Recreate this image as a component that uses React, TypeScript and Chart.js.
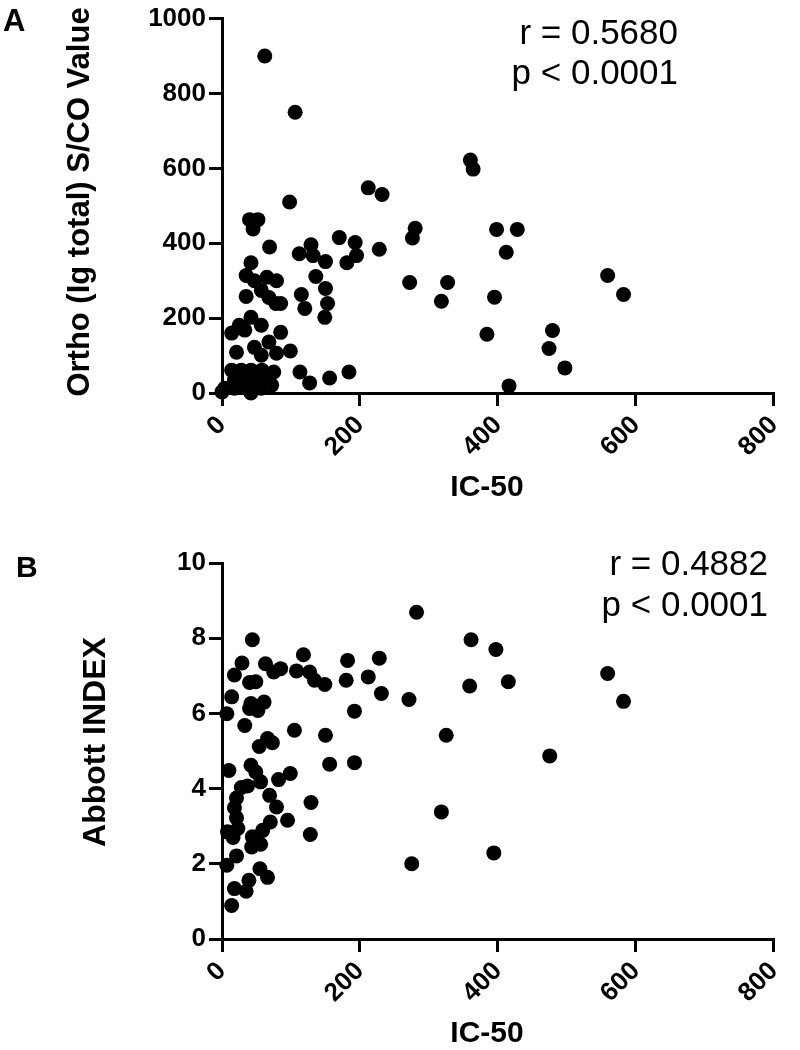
import React, { useEffect, useRef } from "react";
import { Chart, registerables } from "chart.js";

Chart.register(...registerables);

// ---------- data ----------
const xTickValues = [0, 200, 400, 600, 800];
const yTicksA = [0, 200, 400, 600, 800, 1000];
const yTicksB = [0, 2, 4, 6, 8, 10];

// Panel A: IC-50 vs Ortho (Ig total) S/CO value
const icA = [
  62, 106, 360, 364, 212, 232, 98, 40, 52, 45, 280, 276, 398, 428, 412, 559, 582, 395, 384, 479, 474, 497, 416,
  69, 112, 129, 132, 150, 170, 193, 195, 181, 228, 272, 327, 318,
  42, 35, 47, 65, 79, 57, 68, 78, 85, 35, 136, 115, 120, 150, 153, 149,
  42, 25, 14, 33, 57, 85, 21, 47, 68, 57, 79, 99,
  14, 28, 42, 58, 75, 18, 33, 50, 65, 4, 18, 37, 57, 72, 0, 42,
  113, 127, 156, 184,
];
const orthoA = [
  900, 750, 622, 598, 548, 530, 510, 463, 463, 438, 440, 414, 437, 437, 376, 314, 263, 256, 157, 167, 119, 67, 19,
  390, 372, 396, 367, 351, 415, 402, 367, 348, 384, 295, 295, 245,
  348, 314, 300, 309, 300, 274, 255, 239, 239, 258, 311, 263, 226, 279, 239, 202,
  202, 181, 160, 168, 181, 162, 109, 122, 136, 101, 106, 112,
  61, 61, 61, 61, 56, 35, 35, 35, 35, 13, 13, 13, 13, 21, 3, 0,
  56, 27, 40, 56,
];

// Panel B: IC-50 vs Abbott INDEX
const icB = [
  282, 44, 361, 397, 29, 18, 118, 63, 75, 85, 182, 228, 108, 127, 134, 149, 180, 212, 40, 49, 231, 271, 359, 415, 559, 582, 475, 394,
  14, 7, 42, 61, 52, 40, 192, 33, 105, 150, 325, 54, 66, 73,
  10, 42, 49, 56, 82, 99, 156, 192,
  28, 37, 21, 18, 21, 23, 69, 79, 95, 70, 59, 44, 56, 43, 129, 128, 318, 275,
  8, 16, 7, 21, 14, 18, 35, 39, 55, 66,
];
const abbottB = [
  8.69, 7.96, 7.96, 7.7, 7.34, 7.02, 7.56, 7.32, 7.1, 7.19, 7.41, 7.47, 7.13, 7.1, 6.88, 6.77, 6.88, 6.97, 6.82, 6.84, 6.53, 6.37, 6.73, 6.84, 7.06, 6.32, 4.87, 2.29,
  6.44, 5.99, 6.26, 6.3, 6.08, 6.13, 6.06, 5.68, 5.55, 5.42, 5.42, 5.12, 5.33, 5.22,
  4.48, 4.62, 4.44, 4.18, 4.24, 4.4, 4.65, 4.69,
  4.03, 4.07, 3.75, 3.49, 3.22, 2.94, 3.82, 3.51, 3.16, 3.11, 2.89, 2.72, 2.52, 2.45, 3.63, 2.78, 3.38, 2.0,
  2.85, 2.7, 1.96, 2.21, 0.89, 1.34, 1.27, 1.56, 1.87, 1.64,
];

const xTitle = "IC-50";
const yTitleA = "Ortho (Ig total) S/CO Value";
const yTitleB = "Abbott INDEX";
const statsA = ["r = 0.5680", "p < 0.0001"];
const statsB = ["r = 0.4882", "p < 0.0001"];

// ---------- helpers ----------
const FAMILY = '"Liberation Sans", Arial, Helvetica, sans-serif';

type Txt = {
  text: string;
  x: number;
  y: number;
  font: string;
  align: CanvasTextAlign;
  rotate?: number;
};

const textPlugin = {
  id: "panelText",
  afterDraw(chart: any, _args: any, opts: any) {
    const ctx = chart.ctx as CanvasRenderingContext2D;
    const items: Txt[] = (opts && opts.items) || [];
    items.forEach((t) => {
      ctx.save();
      ctx.translate(t.x, t.y);
      if (t.rotate) ctx.rotate(t.rotate);
      ctx.font = t.font;
      ctx.fillStyle = "#000";
      ctx.textAlign = t.align;
      ctx.textBaseline = "middle";
      ctx.fillText(t.text, 0, 0);
      ctx.restore();
    });
  },
};

const CANVAS_H = 525;

function makeConfig(
  xs: number[],
  ys: number[],
  yTicks: number[],
  topPad: number,
  bottomAxisH: number,
  items: Txt[]
): any {
  const tickFont = { family: FAMILY, size: 26, weight: "bold" as const };
  const gridCfg = {
    display: true,
    drawOnChartArea: false,
    drawTicks: true,
    tickLength: 13,
    tickWidth: 3,
    tickColor: "#000",
    color: "#000",
    lineWidth: 3,
  };
  const borderCfg = { display: true, color: "#000", width: 3 };
  const plainLabel = (v: any) => String(v);
  return {
    type: "scatter",
    data: {
      datasets: [
        {
          data: xs.map((x, i) => ({ x, y: ys[i] })),
          backgroundColor: "#000",
          borderWidth: 0,
          pointRadius: 7.5,
          pointHoverRadius: 7.5,
          clip: false,
        },
      ],
    },
    options: {
      animation: false,
      responsive: false,
      maintainAspectRatio: false,
      events: [],
      layout: {
        autoPadding: false,
        padding: { left: 0, top: topPad, right: 13, bottom: 0 },
      },
      plugins: {
        legend: { display: false },
        tooltip: { enabled: false },
        panelText: { items },
      },
      scales: {
        x: {
          type: "linear",
          min: xTickValues[0],
          max: xTickValues[xTickValues.length - 1],
          afterBuildTicks: (s: any) => {
            s.ticks = xTickValues.map((v) => ({ value: v }));
          },
          afterFit: (s: any) => {
            s.height = bottomAxisH;
          },
          ticks: {
            font: tickFont,
            color: "#000",
            padding: 4,
            maxRotation: 45,
            minRotation: 45,
            callback: plainLabel,
          },
          grid: gridCfg,
          border: borderCfg,
        },
        y: {
          type: "linear",
          min: yTicks[0],
          max: yTicks[yTicks.length - 1],
          afterBuildTicks: (s: any) => {
            s.ticks = yTicks.map((v) => ({ value: v }));
          },
          afterFit: (s: any) => {
            s.width = 222;
          },
          ticks: {
            font: tickFont,
            color: "#000",
            padding: 3,
            callback: plainLabel,
          },
          grid: gridCfg,
          border: borderCfg,
        },
      },
    },
    plugins: [textPlugin],
  };
}

export default function App() {
  const refA = useRef<HTMLCanvasElement | null>(null);
  const refB = useRef<HTMLCanvasElement | null>(null);

  useEffect(() => {
    const boldTitle = (size: number) => `bold ${size}px ${FAMILY}`;
    const plain = (size: number) => `${size}px ${FAMILY}`;

    const itemsA: Txt[] = [
      { text: "A", x: 3, y: 22, font: boldTitle(31), align: "left" },
      { text: yTitleA, x: 80, y: 202, font: boldTitle(31), align: "center", rotate: -Math.PI / 2 },
      { text: xTitle, x: 487, y: 488, font: boldTitle(30), align: "center" },
      { text: statsA[0], x: 678, y: 34, font: plain(35), align: "right" },
      { text: statsA[1], x: 678, y: 74, font: plain(35), align: "right" },
    ];
    const itemsB: Txt[] = [
      { text: "B", x: 16, y: 44, font: boldTitle(30), align: "left" },
      { text: yTitleB, x: 96, y: 217, font: boldTitle(32), align: "center", rotate: -Math.PI / 2 },
      { text: xTitle, x: 487, y: 509, font: boldTitle(30), align: "center" },
      { text: statsB[0], x: 768, y: 40, font: plain(35), align: "right" },
      { text: statsB[1], x: 768, y: 81, font: plain(35), align: "right" },
    ];

    const chartA = new Chart(
      refA.current as HTMLCanvasElement,
      makeConfig(icA, orthoA, yTicksA, 17, CANVAS_H - 393, itemsA)
    );
    const chartB = new Chart(
      refB.current as HTMLCanvasElement,
      makeConfig(icB, abbottB, yTicksB, 38, CANVAS_H - 414, itemsB)
    );
    return () => {
      chartA.destroy();
      chartB.destroy();
    };
  }, []);

  return (
    <div
      style={{
        position: "absolute",
        left: 0,
        top: 0,
        width: 800,
        height: 1050,
        background: "#fff",
      }}
    >
      <canvas
        ref={refA}
        width={800}
        height={CANVAS_H}
        style={{ position: "absolute", left: 0, top: 0, width: 800, height: CANVAS_H }}
      />
      <canvas
        ref={refB}
        width={800}
        height={CANVAS_H}
        style={{ position: "absolute", left: 0, top: CANVAS_H, width: 800, height: CANVAS_H }}
      />
    </div>
  );
}
